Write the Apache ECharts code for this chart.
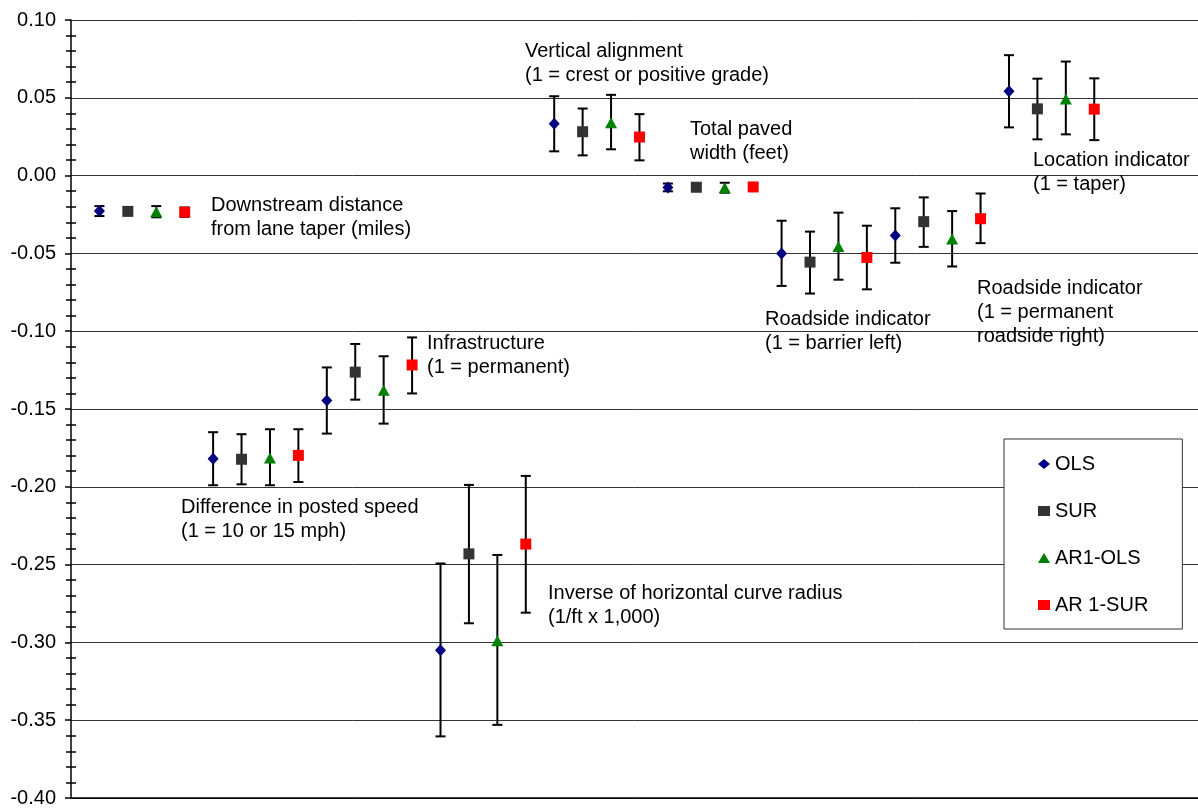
<!DOCTYPE html>
<html>
<head>
<meta charset="utf-8">
<script src="https://cdn.jsdelivr.net/npm/echarts@6/dist/echarts.min.js"></script>
<style>
html,body{margin:0;padding:0;background:#fff;}
#chart{width:1198px;height:808px;}
</style>
</head>
<body>
<div id="chart"></div>
<script>
// Variable groups (each group holds four estimates, one per model)
const groups = [
  'Downstream distance\nfrom lane taper (miles)',
  'Difference in posted speed\n(1 = 10 or 15 mph)',
  'Infrastructure\n(1 = permanent)',
  'Inverse of horizontal curve radius\n(1/ft x 1,000)',
  'Vertical alignment\n(1 = crest or positive grade)',
  'Total paved\nwidth (feet)',
  'Roadside indicator\n(1 = barrier left)',
  'Roadside indicator\n(1 = permanent\nroadside right)',
  'Location indicator\n(1 = taper)'
];
const seriesNames = ['OLS', 'SUR', 'AR1-OLS', 'AR 1-SUR'];

// Point estimates
const olsValues   = [-0.0228, -0.1820, -0.1445, -0.3050, 0.0333, -0.0076, -0.0500, -0.0385, 0.0542];
const surValues   = [-0.0230, -0.1823, -0.1263, -0.2431, 0.0282, -0.0075, -0.0556, -0.0296, 0.0429];
const ar1olsValues= [-0.0232, -0.1815, -0.1380, -0.2990, 0.0340, -0.0078, -0.0455, -0.0407, 0.0493];
const ar1surValues= [-0.0235, -0.1798, -0.1217, -0.2368, 0.0248, -0.0073, -0.0526, -0.0277, 0.0427];

// Error bar lower / upper bounds
const olsLow    = [-0.0260, -0.1990, -0.1658, -0.3604, 0.0156, -0.0101, -0.0709, -0.0560, 0.0310];
const olsHigh   = [-0.0196, -0.1649, -0.1233, -0.2493, 0.0510, -0.0051, -0.0290, -0.0210, 0.0774];
const surLow    = [-0.0250, -0.1984, -0.1440, -0.2877, 0.0130, -0.0095, -0.0758, -0.0458, 0.0233];
const surHigh   = [-0.0210, -0.1662, -0.1082, -0.1988, 0.0431, -0.0055, -0.0360, -0.0140, 0.0623];
const ar1olsLow = [-0.0268, -0.1990, -0.1594, -0.3530, 0.0169, -0.0110, -0.0669, -0.0584, 0.0265];
const ar1olsHigh= [-0.0196, -0.1630, -0.1161, -0.2438, 0.0519, -0.0046, -0.0238, -0.0228, 0.0733];
const ar1surLow = [-0.0265, -0.1969, -0.1400, -0.2809, 0.0098, -0.0093, -0.0731, -0.0434, 0.0228];
const ar1surHigh= [-0.0205, -0.1630, -0.1040, -0.1930, 0.0395, -0.0053, -0.0322, -0.0115, 0.0625];

// Y axis ticks
const yMin = -0.40, yMax = 0.10, yStep = 0.05;

const values = [olsValues, surValues, ar1olsValues, ar1surValues];
const lows = [olsLow, surLow, ar1olsLow, ar1surLow];
const highs = [olsHigh, surHigh, ar1olsHigh, ar1surHigh];

// styling
const colors = ['#000080', '#333333', '#008000', '#ff0000'];
const symbols = ['diamond', 'rect', 'triangle', 'rect'];
const symbolSizes = [[11, 12], [11, 11], [12, 11], [11, 11]];
const FONT = '"Liberation Sans", Arial, sans-serif';

// annotation placement (pixels, layout only)
const annoPos = [
  [211, 193], [181, 495], [427, 331], [548, 581], [525, 39],
  [690, 117], [765, 307], [977, 276], [1033, 148]
];

function xPos(g, s) { return 4 * g + s + 1; }

const series = [];
values.forEach((vals, s) => {
  series.push({
    type: 'custom',
    name: seriesNames[s] + ' error',
    z: 1,
    silent: true,
    encode: { x: 0, y: [1, 2] },
    data: vals.map((v, g) => [xPos(g, s), lows[s][g], highs[s][g]]),
    renderItem: function (params, api) {
      const x = api.value(0);
      const p1 = api.coord([x, api.value(2)]);
      const p2 = api.coord([x, api.value(1)]);
      const w = 5;
      const st = { stroke: '#000', lineWidth: 2, fill: null };
      return {
        type: 'group',
        children: [
          { type: 'line', shape: { x1: p1[0], y1: p1[1], x2: p2[0], y2: p2[1] }, style: st },
          { type: 'line', shape: { x1: p1[0] - w, y1: p1[1], x2: p1[0] + w, y2: p1[1] }, style: st },
          { type: 'line', shape: { x1: p2[0] - w, y1: p2[1], x2: p2[0] + w, y2: p2[1] }, style: st }
        ]
      };
    }
  });
});
values.forEach((vals, s) => {
  series.push({
    type: 'scatter',
    name: seriesNames[s],
    z: 3,
    symbol: symbols[s],
    symbolSize: symbolSizes[s],
    itemStyle: { color: colors[s], opacity: 1 },
    data: vals.map((v, g) => [xPos(g, s), v])
  });
});

const chart = echarts.init(document.getElementById('chart'), null, { renderer: 'canvas' });
chart.setOption({
  animation: false,
  backgroundColor: '#fff',
  textStyle: { fontFamily: FONT },
  grid: { left: 71, top: 20, right: 0, bottom: 6, containLabel: false },
  xAxis: {
    type: 'value', min: 0, max: 39.65,
    axisLine: { show: true, onZero: false, lineStyle: { color: '#000', width: 1.5 } },
    axisTick: { show: false }, axisLabel: { show: false }, splitLine: { show: false }
  },
  yAxis: [{
    type: 'value', min: yMin, max: yMax, interval: yStep,
    axisLine: { show: true, onZero: false, lineStyle: { color: '#000', width: 1.5 } },
    axisTick: { show: true, length: 6, lineStyle: { color: '#000', width: 1.5 } },
    minorTick: { show: true, splitNumber: 5, length: 5, lineStyle: { color: '#000', width: 1.5 } },
    axisLabel: {
      margin: 15, color: '#000', fontSize: 20, fontFamily: FONT,
      formatter: v => v.toFixed(2)
    },
    splitLine: { show: true, lineStyle: { color: '#333', width: 1 } }
  }, {
    type: 'value', min: yMin, max: yMax, interval: yStep, position: 'left', offset: 0,
    axisLine: { show: false },
    axisTick: { show: false, inside: true },
    minorTick: { show: true, splitNumber: 5, length: 5, lineStyle: { color: '#000', width: 1.5 } },
    axisLabel: { show: false },
    splitLine: { show: false }
  }],
  legend: {
    orient: 'vertical',
    left: 1004, top: 439,
    padding: [15, 34, 14, 34],
    itemWidth: 12, itemHeight: 10, itemGap: 27,
    backgroundColor: '#fff',
    borderColor: '#333', borderWidth: 1,
    textStyle: { fontSize: 20, color: '#000', fontFamily: FONT },
    data: seriesNames.map((n, i) => ({ name: n, icon: symbols[i] }))
  },
  graphic: groups.map((t, i) => ({
    type: 'text',
    left: annoPos[i][0], top: annoPos[i][1],
    z: 10,
    style: { text: t, fontSize: 20, lineHeight: 24, fill: '#000', font: '20px ' + FONT }
  })),
  series: series
});
</script>
</body>
</html>
